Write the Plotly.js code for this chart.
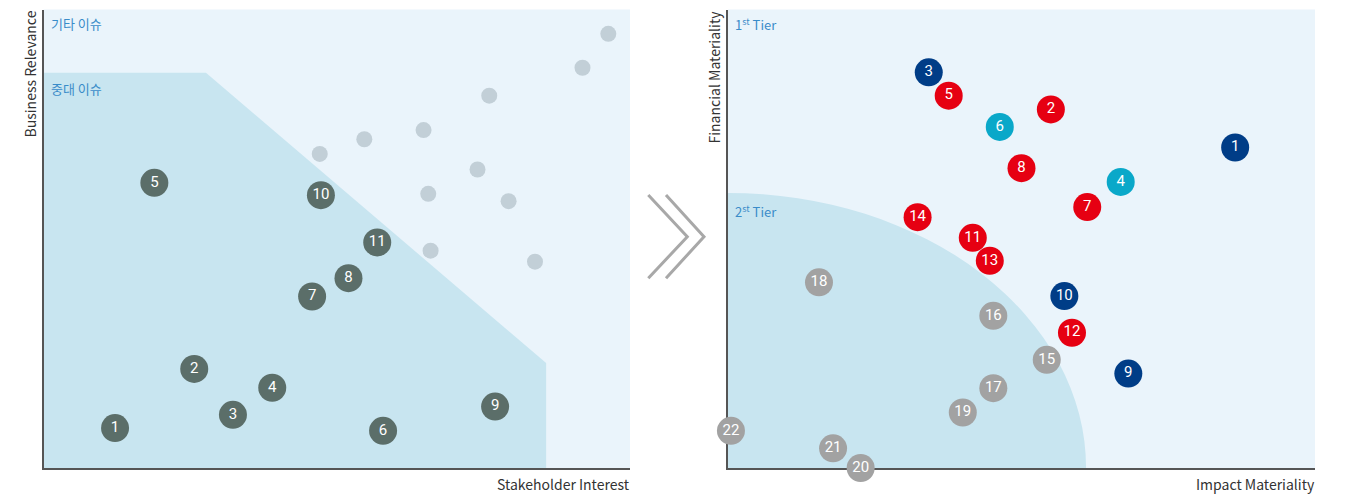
<!DOCTYPE html>
<html>
<head>
<meta charset="utf-8">
<script src="https://cdn.plot.ly/plotly-3.0.1.min.js"></script>
<style>html,body{margin:0;padding:0;background:#fff;}#chart{width:1350px;height:495px;}</style>
</head>
<body>
<div id="chart"></div>
<script>
// ---- Left panel: Stakeholder Interest vs Business Relevance ----
const leftLabels = ['1','2','3','4','5','6','7','8','9','10','11'];
const leftX = [12.2, 25.7, 32.3, 39.0, 18.9, 57.9, 45.8, 52.0, 77.0, 47.3, 56.9];
const leftY = [8.7, 21.6, 11.6, 17.5, 62.2, 8.1, 37.4, 41.4, 13.4, 59.5, 49.2];
const otherX = [47.1, 54.7, 64.8, 76.0, 91.9, 96.3, 74.0, 65.6, 79.3, 66.0, 83.8];
const otherY = [68.5, 71.7, 73.7, 81.2, 87.3, 94.7, 65.1, 59.8, 58.2, 47.4, 45.0];
// boundary of the 중대 이슈 region
const regionX = [0, 0, 27.7, 85.7, 85.7];
const regionY = [0, 86.2, 86.2, 22.9, 0];

// ---- Right panel: Impact Materiality vs Financial Materiality ----
const rightLabels = ['1','2','3','4','5','6','7','8','9','10','11','12','13','14','15','16','17','18','19','20','21','22'];
const rightX = [86.4, 55.0, 34.2, 66.9, 37.6, 46.3, 61.2, 50.0, 68.2, 57.3, 41.7, 58.6, 44.6, 32.3, 54.3, 45.2, 45.2, 15.5, 40.0, 22.6, 17.9, 0.5];
const rightY = [69.9, 78.2, 86.3, 62.4, 81.2, 74.4, 56.9, 65.4, 20.6, 37.5, 50.2, 29.5, 45.2, 54.7, 23.6, 33.2, 17.4, 40.5, 12.1, 0.0, 4.3, 8.1];
const rightGroup = ['navy','red','navy','teal','red','teal','red','red','navy','navy','red','red','red','red','grey','grey','grey','grey','grey','grey','grey','grey'];
const tierRadiusX = 61;
const tierRadiusY = 60;

const groupColor = {navy:'#003D87', red:'#E60012', teal:'#0AA8C9', grey:'#A2A2A2'};

const traces = [
  {
    x: otherX, y: otherY, xaxis:'x', yaxis:'y', type:'scatter', mode:'markers',
    marker:{size:16, color:'#C2CFD7'}, hoverinfo:'skip', cliponaxis:false
  },
  {
    x: leftX, y: leftY, text: leftLabels, xaxis:'x', yaxis:'y', type:'scatter', mode:'markers+text',
    marker:{size:28, color:'#5B6E69'}, textposition:'middle center',
    textfont:{color:'#ffffff', size:15, family:'Roboto'}, hoverinfo:'skip', cliponaxis:false
  },
  {
    x: rightX, y: rightY, text: rightLabels, xaxis:'x2', yaxis:'y2', type:'scatter', mode:'markers+text',
    marker:{size:28, color: rightGroup.map(g => groupColor[g])}, textposition:'middle center',
    textfont:{color:'#ffffff', size:15, family:'Roboto'}, hoverinfo:'skip', cliponaxis:false
  }
];

const yDom = [27/495, (495-9.5)/495];
const axBase = {range:[0,100], showgrid:false, zeroline:false, showticklabels:false, ticks:'',
  showline:true, linecolor:'#555555', linewidth:2, mirror:false, fixedrange:true, layer:'below traces'};

let regionPath = 'M ' + regionX.map((v,i) => v + ',' + regionY[i]).join(' L ') + ' Z';

const P = (px, py) => (px/1350).toFixed(5) + ',' + (1 - py/495).toFixed(5);
const chev1 = 'M ' + P(648.3,195) + ' L ' + P(687.3,236.7) + ' L ' + P(648.3,278.3);
const chev2 = 'M ' + P(666,195) + ' L ' + P(704,236.7) + ' L ' + P(666,278.3);

const layout = {
  width:1350, height:495,
  margin:{l:0, r:0, t:0, b:0},
  paper_bgcolor:'#ffffff', plot_bgcolor:'#EAF4FB',
  showlegend:false,
  font:{family:'Noto Sans CJK KR', color:'#333333'},
  xaxis: Object.assign({}, axBase, {domain:[43.5/1350, 630/1350], anchor:'y'}),
  yaxis: Object.assign({}, axBase, {domain:yDom, anchor:'x'}),
  xaxis2: Object.assign({}, axBase, {domain:[728/1350, 1315/1350], anchor:'y2'}),
  yaxis2: Object.assign({}, axBase, {domain:yDom, anchor:'x2'}),
  shapes: [
    {type:'path', xref:'x', yref:'y', path: regionPath, fillcolor:'#C8E5F0', line:{width:0}, layer:'below'},
    {type:'circle', xref:'x2', yref:'y2', x0:-tierRadiusX, x1:tierRadiusX, y0:-tierRadiusY, y1:tierRadiusY,
      fillcolor:'#C8E5F0', line:{width:0}, layer:'below'},
    {type:'path', xref:'paper', yref:'paper', path: chev1, line:{color:'#A8A8A8', width:3}},
    {type:'path', xref:'paper', yref:'paper', path: chev2, line:{color:'#A8A8A8', width:3}}
  ],
  annotations: [
    {text:'기타 이슈', xref:'paper', yref:'paper', x:49/1350, y:1-24/495, xanchor:'left', yanchor:'middle', showarrow:false,
      font:{size:13, color:'#3A8CC9', family:'Noto Sans CJK KR'}},
    {text:'중대 이슈', xref:'paper', yref:'paper', x:49/1350, y:1-88/495, xanchor:'left', yanchor:'middle', showarrow:false,
      font:{size:13, color:'#3A8CC9', family:'Noto Sans CJK KR'}},
    {text:'1<sup>st</sup> Tier', xref:'paper', yref:'paper', x:733/1350, y:1-24/495, xanchor:'left', yanchor:'middle', showarrow:false,
      font:{size:13, color:'#3A8CC9', family:'Noto Sans CJK KR'}},
    {text:'2<sup>st</sup> Tier', xref:'paper', yref:'paper', x:733/1350, y:1-211/495, xanchor:'left', yanchor:'middle', showarrow:false,
      font:{size:13, color:'#3A8CC9', family:'Noto Sans CJK KR'}},
    {text:'Business Relevance', textangle:-90, xref:'paper', yref:'paper', x:29/1350, y:1-9/495, xanchor:'center', yanchor:'top', showarrow:false,
      font:{size:14, color:'#333333', family:'Noto Sans CJK KR'}},
    {text:'Financial Materiality', textangle:-90, xref:'paper', yref:'paper', x:713/1350, y:1-9/495, xanchor:'center', yanchor:'top', showarrow:false,
      font:{size:14, color:'#333333', family:'Noto Sans CJK KR'}},
    {text:'Stakeholder Interest', xref:'paper', yref:'paper', x:632/1350, y:1-484/495, xanchor:'right', yanchor:'middle', showarrow:false,
      font:{size:14, color:'#333333', family:'Noto Sans CJK KR'}},
    {text:'Impact Materiality', xref:'paper', yref:'paper', x:1317/1350, y:1-484/495, xanchor:'right', yanchor:'middle', showarrow:false,
      font:{size:14, color:'#333333', family:'Noto Sans CJK KR'}}
  ]
};

Plotly.newPlot('chart', traces, layout, {staticPlot:true, displayModeBar:false});
</script>
</body>
</html>
